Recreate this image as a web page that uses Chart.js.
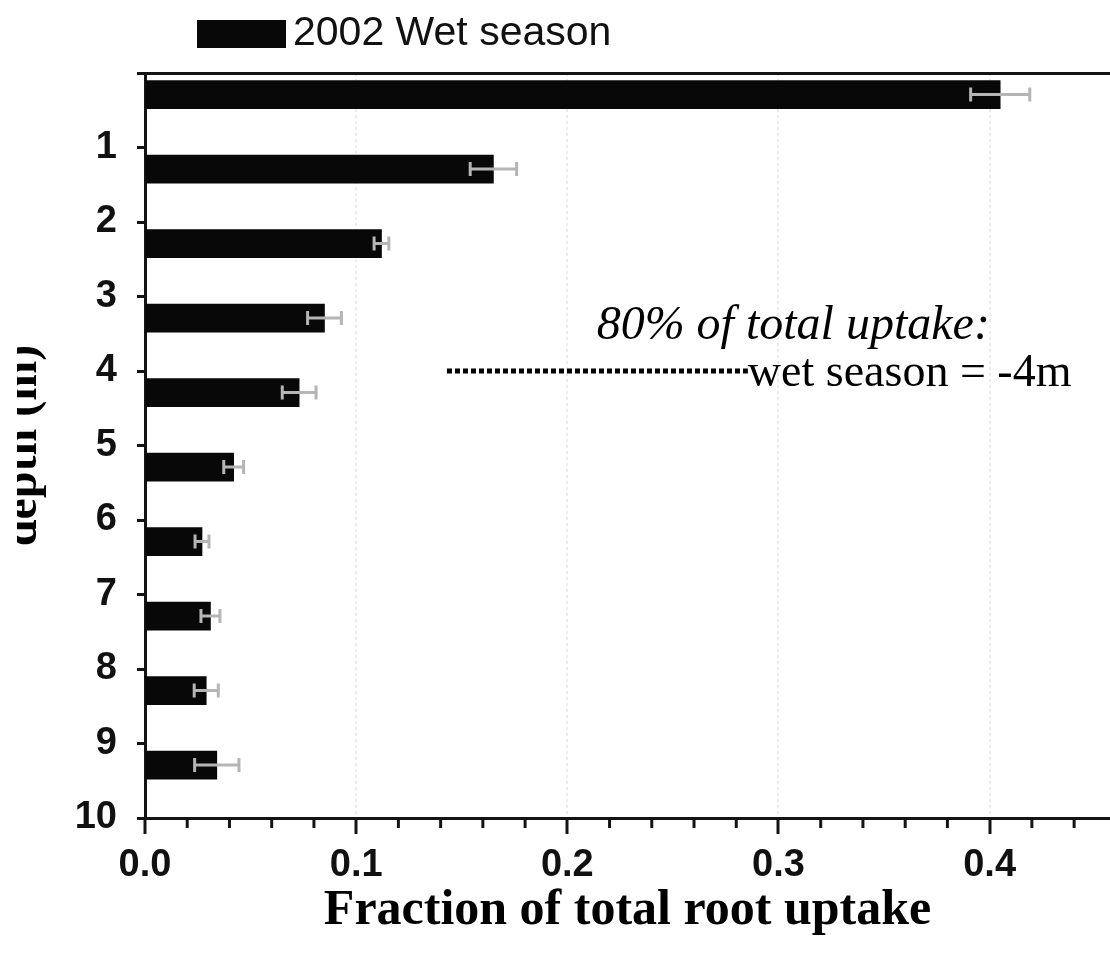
<!DOCTYPE html>
<html>
<head>
<meta charset="utf-8">
<title>Root uptake by depth</title>
<script src="https://cdn.jsdelivr.net/npm/chart.js@4.4.1/dist/chart.umd.min.js"></script>
<style>
  html, body { margin: 0; padding: 0; background: #fff; overflow: hidden; }
  canvas { display: block; }
</style>
</head>
<body>
<canvas id="uptakeChart" width="1110" height="953"></canvas>
<script>
/* =========================================================
   DATA
========================================================= */
const seriesLabel = "2002 Wet season";
const layerTop = [0, 1, 2, 3, 4, 5, 6, 7, 8, 9];            // top of each 1 m soil layer
const uptakeFraction = [0.405, 0.165, 0.112, 0.085, 0.073, 0.042, 0.027, 0.031, 0.029, 0.034];
const uptakeError = [0.014, 0.011, 0.0035, 0.008, 0.008, 0.0047, 0.0033, 0.0045, 0.0057, 0.0105];
const xTickLabels = ["0.0", "0.1", "0.2", "0.3", "0.4"];

// 80 % cumulative uptake marker
const cutoffDepth = 4;
const cutoffSpan = [0.143, 0.2855];
const noteTitle = "80% of total uptake:";
const noteText = "wet season = -4m";

/* =========================================================
   STYLE
========================================================= */
const INK = "#141414";
const BAR_OFFSET = 0.29;          // bars sit in the upper part of their layer
const SANS = "'Liberation Sans', Arial, sans-serif";
const SERIF = "'Liberation Serif', 'Times New Roman', serif";

/* =========================================================
   PLUGINS
========================================================= */
const errorBars = {
  id: "errorBars",
  afterDatasetsDraw(chart) {
    const { ctx, scales: { x } } = chart;
    const meta = chart.getDatasetMeta(0);
    ctx.save();
    ctx.strokeStyle = "#b5b5b5";
    ctx.lineWidth = 3;
    meta.data.forEach((bar, i) => {
      const x1 = x.getPixelForValue(uptakeFraction[i] - uptakeError[i]);
      const x2 = x.getPixelForValue(uptakeFraction[i] + uptakeError[i]);
      const y = bar.y;
      ctx.beginPath();
      ctx.moveTo(x1, y); ctx.lineTo(x2, y);
      ctx.moveTo(x1, y - 7); ctx.lineTo(x1, y + 7);
      ctx.moveTo(x2, y - 7); ctx.lineTo(x2, y + 7);
      ctx.stroke();
    });
    ctx.restore();
  }
};

const cutoffNote = {
  id: "cutoffNote",
  afterDatasetsDraw(chart) {
    const { ctx, scales: { x, y } } = chart;
    const yPx = y.getPixelForValue(cutoffDepth);
    ctx.save();
    ctx.fillStyle = "#000";
    ctx.textBaseline = "alphabetic";

    ctx.font = `italic 48px ${SERIF}`;
    ctx.textAlign = "center";
    ctx.fillText(noteTitle, x.getPixelForValue(0.307), yPx - 32);

    ctx.font = `46px ${SERIF}`;
    ctx.textAlign = "left";
    ctx.fillText(noteText, x.getPixelForValue(cutoffSpan[1]), yPx + 15);
    ctx.restore();
  }
};

const minorTicks = {
  id: "minorTicks",
  afterDraw(chart) {
    const { ctx, chartArea, scales: { x } } = chart;
    ctx.save();
    ctx.strokeStyle = INK;
    ctx.lineWidth = 3;
    for (let k = 1; k * 0.02 <= x.max; k++) {
      if (k % 5 === 0) continue;
      const px = x.getPixelForValue(k * 0.02);
      ctx.beginPath();
      ctx.moveTo(px, chartArea.bottom);
      ctx.lineTo(px, chartArea.bottom + 10);
      ctx.stroke();
    }
    ctx.restore();
  }
};

const legendBox = {
  id: "legendBox",
  afterDraw(chart) {
    const { ctx } = chart;
    const ds = chart.data.datasets[0];
    ctx.save();
    ctx.fillStyle = ds.backgroundColor;
    ctx.fillRect(197, 20, 89, 28);
    ctx.fillStyle = "#111";
    ctx.font = `41px ${SANS}`;
    ctx.textAlign = "left";
    ctx.textBaseline = "middle";
    ctx.fillText(ds.label, 293, 34);
    ctx.restore();
  }
};

// page edge trims the top of the rotated axis title
const edgeTrim = {
  id: "edgeTrim",
  afterDraw(chart) {
    const { ctx } = chart;
    ctx.save();
    ctx.fillStyle = "#fff";
    ctx.fillRect(0, 0, 17, chart.height);
    ctx.restore();
  }
};

/* =========================================================
   CHART
========================================================= */
new Chart(document.getElementById("uptakeChart"), {
  data: {
    datasets: [
      {
        type: "bar",
        label: seriesLabel,
        data: layerTop.map((d, i) => ({ x: uptakeFraction[i], y: d + BAR_OFFSET })),
        backgroundColor: "#080808",
        barThickness: 28
      },
      {
        type: "line",
        label: "cutoff",
        data: cutoffSpan.map(v => ({ x: v, y: cutoffDepth })),
        borderColor: "#000",
        borderWidth: 5,
        borderDash: [5, 3],
        pointRadius: 0,
        fill: false
      }
    ]
  },
  options: {
    indexAxis: "y",
    responsive: false,
    animation: false,
    devicePixelRatio: 1,
    layout: { padding: { top: 73, left: 0, right: 0, bottom: 0 } },
    plugins: {
      legend: { display: false },
      tooltip: { enabled: false }
    },
    scales: {
      x: {
        type: "linear",
        min: 0,
        max: 0.457,
        afterFit: s => { s.height = 135; },
        ticks: {
          stepSize: 0.1,
          includeBounds: false,
          padding: 9,
          color: "#111",
          font: { family: SANS, size: 38, weight: "bold" },
          callback: (v, i) => xTickLabels[i] ?? ""
        },
        grid: {
          color: c => (c.tick && c.tick.value > 0.05 ? "#ececec" : "transparent"),
          lineWidth: 2,
          tickColor: INK,
          tickWidth: 3,
          tickLength: 16
        },
        border: { color: INK, width: 3, dash: [3, 3] },
        title: {
          display: true,
          text: "Fraction of total root uptake",
          color: "#000",
          font: { family: SERIF, size: 50, weight: "bold", lineHeight: 1 },
          padding: { top: 0, bottom: 17 }
        }
      },
      y: {
        type: "linear",
        min: 0,
        max: 10,
        reverse: true,
        offset: false,
        afterFit: s => { s.width = 145; },
        ticks: {
          stepSize: 1,
          padding: 20,
          color: "#111",
          font: { family: SANS, size: 38, weight: "bold" },
          callback: v => (v === 0 ? "" : String(v))
        },
        grid: {
          offset: false,
          color: c => (c.tick && c.tick.value === 0 ? INK : "transparent"),
          lineWidth: 3,
          tickColor: INK,
          tickWidth: 3,
          tickLength: 8
        },
        border: { color: INK, width: 3 },
        title: {
          display: true,
          text: "depth (m)",
          color: "#000",
          font: { family: SERIF, size: 48, weight: "bold", lineHeight: 1 },
          padding: { top: 0, bottom: 0 }
        }
      }
    }
  },
  plugins: [errorBars, cutoffNote, minorTicks, legendBox, edgeTrim]
});
</script>
</body>
</html>
